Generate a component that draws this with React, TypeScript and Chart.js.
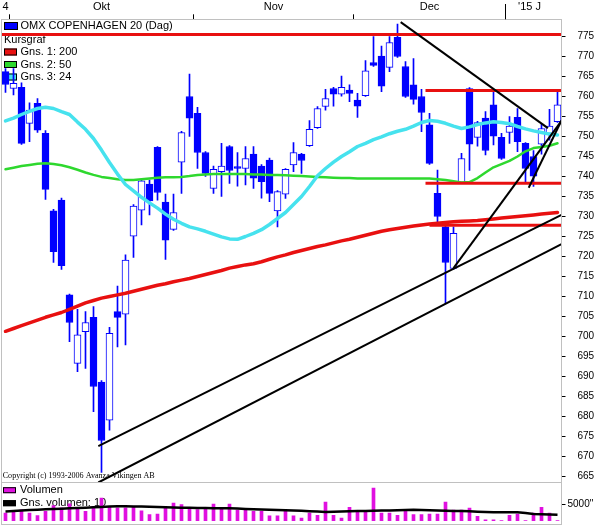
import React, { useEffect, useRef } from 'react';
import { Chart, registerables } from 'chart.js';

Chart.register(...registerables);

// ---------- data ----------
const OPEN = [766.2, 762, 762.3, 753.3, 758.3, 750.8, 731.4, 734.1, 710.4, 693.3, 701.2, 704.8, 688.6, 679.1, 706.2, 705.6, 725.1, 731.6, 738.1, 747.3, 733.6, 726.8, 743.6, 760, 755.8, 746, 737, 741.2, 747.5, 742.5, 742, 745.6, 742.6, 744.1, 731.4, 735.6, 742.9, 745.6, 747.7, 752.2, 757.5, 762, 760.6, 761.6, 759.1, 760.2, 768.5, 770.1, 767.3, 774.8, 767.5, 762.9, 760, 752.9, 735.8, 727.4, 717, 738.5, 762, 749.8, 754.6, 757.9, 749.8, 751, 754.8, 748.3, 745, 748.1, 750.8, 753.7];
const HIGH = [767, 767, 763.4, 758.4, 759.5, 751.5, 731.8, 734.6, 710.6, 706.8, 706.2, 707.5, 689, 702.3, 712.6, 720.4, 733, 739.2, 739.1, 747.5, 735.6, 735.6, 751.3, 765.6, 757.3, 746.2, 742.6, 748.3, 747.7, 746, 747.5, 747.5, 743, 744.6, 736.5, 742, 748.5, 745.8, 754, 757.5, 761.8, 762.3, 765.1, 762.9, 760.8, 769, 775, 772.6, 775, 778.1, 768.7, 769.5, 761.8, 755.8, 741.6, 727.8, 727.4, 745.8, 762.2, 753.8, 756.2, 761.6, 750.8, 755, 757, 748.5, 746.5, 753.1, 756.8, 761.5];
const LOW = [761, 760.4, 748, 748.7, 751, 734.3, 718.5, 716.8, 698.7, 691.2, 692, 681.2, 666, 676.6, 697.4, 697.9, 719.8, 727.9, 730.4, 734.1, 719.3, 726.5, 735.8, 750, 742, 740, 735.8, 735, 738.3, 737.6, 737.9, 737, 734.6, 733.7, 727.4, 734.5, 741.2, 740.8, 747.5, 752, 756.6, 757.6, 760.1, 758.7, 754.8, 760, 767.5, 761.2, 766.2, 769.8, 759.8, 758.1, 751.2, 743, 728.5, 708.3, 716.8, 738.2, 741.5, 747.6, 745.4, 747.9, 744.3, 748.3, 746.2, 738.7, 737.5, 745.6, 749.1, 753.5];
const CLOSE = [763, 763.3, 748.3, 756.6, 751.6, 736.8, 721.2, 717.7, 703.5, 700.4, 703.5, 687.5, 674, 700.8, 704.8, 719.1, 732.6, 738.9, 733.9, 736, 724.1, 731, 751, 754.6, 746, 740.8, 741.8, 742.6, 741.5, 742, 744.5, 739.6, 738.7, 735.8, 736.2, 741.8, 746, 744, 751.8, 757, 759.5, 760.6, 762.3, 760.8, 757.6, 766.4, 767.8, 762.6, 773.5, 770, 760, 759.3, 756, 743.3, 730, 718.5, 725.8, 744.5, 748.1, 753.5, 746.5, 750.1, 744.5, 752.6, 748.7, 742, 740.1, 752, 752.6, 757.9];

const MA200 = [701.3, 702.0, 702.7, 703.4, 704.1, 704.8, 705.4, 706.0, 706.8, 707.6, 708.4, 709.0, 709.6, 710.0, 710.4, 710.8, 711.3, 711.8, 712.3, 712.8, 713.2, 713.7, 714.1, 714.5, 715.0, 715.5, 716.0, 716.5, 717.1, 717.5, 717.9, 718.2, 718.7, 719.3, 719.9, 720.4, 721.0, 721.5, 722.0, 722.5, 722.9, 723.4, 723.9, 724.3, 724.8, 725.3, 725.8, 726.3, 726.7, 727.0, 727.3, 727.6, 727.9, 728.1, 728.3, 728.5, 728.7, 728.8, 728.9, 729.0, 729.2, 729.4, 729.6, 729.8, 730.0, 730.2, 730.4, 730.6, 730.8, 731.0];
const MA50 = [741.8, 742.2, 742.6, 742.9, 743.2, 743.3, 743.1, 742.8, 742.3, 741.7, 741.0, 740.4, 739.9, 739.6, 739.3, 739.1, 739.1, 739.3, 739.5, 739.7, 739.8, 739.8, 739.9, 740.1, 740.4, 740.5, 740.6, 740.6, 740.6, 740.6, 740.6, 740.5, 740.5, 740.4, 740.4, 740.3, 740.2, 740.1, 740.0, 739.9, 739.8, 739.7, 739.6, 739.6, 739.5, 739.5, 739.5, 739.5, 739.5, 739.5, 739.5, 739.5, 739.5, 739.5, 739.3, 739.1, 738.8, 738.5, 738.6, 739.6, 741.0, 742.3, 743.1, 743.9, 745.0, 746.3, 747.1, 747.4, 747.7, 748.3];
const MA24 = [753.9, 754.6, 755.5, 756.3, 757.0, 757.3, 757.0, 756.2, 755.5, 753.6, 751.8, 749.5, 746.6, 743.5, 740.6, 738.0, 736.4, 734.8, 733.4, 732.1, 730.6, 729.3, 728.3, 727.4, 726.9, 726.3, 725.6, 724.9, 724.4, 724.3, 725.0, 725.8, 726.7, 728.0, 729.5, 731.0, 733.0, 735.0, 737.5, 740.2, 742.0, 743.6, 745.0, 746.2, 747.5, 748.3, 749.2, 749.9, 750.7, 751.3, 751.8, 752.6, 753.5, 754.0, 753.8, 753.3, 752.6, 752.0, 752.4, 753.0, 753.4, 753.7, 753.5, 753.2, 752.5, 751.9, 751.4, 751.0, 750.6, 750.4];

const VOLUME = [2400, 3100, 3400, 2400, 1600, 2900, 4700, 4000, 5300, 4000, 2900, 4500, 7100, 4300, 4000, 4000, 4300, 3100, 1900, 2100, 4200, 5500, 5000, 3750, 3440, 3750, 5200, 3960, 5200, 3330, 3330, 2900, 2900, 1560, 1560, 3125, 1560, 830, 2400, 1670, 5830, 1670, 830, 4170, 2710, 2710, 10200, 2400, 2400, 1670, 2920, 1875, 1875, 2080, 2080, 5830, 3330, 3330, 3960, 1350, 310, 310, 0, 1670, 2080, 0, 2400, 4170, 2400, 0];
const VOLUME_AVG = [2900, 3050, 3200, 3340, 3450, 3550, 3650, 3760, 3870, 3970, 4070, 4180, 4280, 4400, 4500, 4480, 4460, 4440, 4360, 4280, 4190, 4130, 4080, 4020, 3970, 3950, 3920, 3900, 3875, 3780, 3690, 3600, 3500, 3430, 3360, 3290, 3220, 3090, 2970, 2840, 2720, 2790, 2870, 2940, 3000, 3050, 3110, 3160, 3220, 3280, 3340, 3400, 3330, 3260, 3190, 3125, 3060, 3000, 2940, 2830, 2730, 2625, 2625, 2625, 2625, 2400, 2090, 2030, 1950, 1875];

const PRICE_TICKS = [665, 670, 675, 680, 685, 690, 695, 700, 705, 710, 715, 720, 725, 730, 735, 740, 745, 750, 755, 760, 765, 770, 775];
const VOLUME_TICKS = [5000];
const MONTH_BOUNDARIES = [0.5, 23.5, 43.5, 62.5];
const YEAR_BOUNDARY = 62.5;
const MONTH_LABEL_POS = [0, 12, 33.5, 53, 65.5];
const MONTH_LABELS = ['4', 'Okt', 'Nov', 'Dec', "'15 J"];

// support / resistance lines (index range, price)
const H_FROM = [-0.5, 52.5, 52.5, 53];
const H_TO = [69.5, 69.5, 69.5, 69.5];
const H_VALUE = [775.5, 761.5, 738.3, 727.8];

// trend lines (index, price) -> (index, price)
const TL_X1 = [49.4, 11.6, 11.6, 56, 65.4];
const TL_Y1 = [778.6, 672.6, 663.5, 717.1, 737.2];
const TL_X2 = [67.8, 69.5, 69.5, 69.5, 69.5];
const TL_Y2 = [752.1, 730.4, 723.1, 753.9, 754.0];

const LEGEND_TITLE = 'OMX COPENHAGEN 20 (Dag)';
const LEGEND_SUB = 'Kursgraf';
const LEGEND_MA = ['Gns. 1: 200', 'Gns. 2: 50', 'Gns. 3: 24'];
const LEGEND_VOL = ['Volumen', 'Gns. volumen: 10'];
const COPYRIGHT = 'Copyright (c) 1993-2006 Avanza Vikingen AB';

// ---------- styles ----------
const FONT = '"Liberation Sans", Arial, sans-serif';
const BLUE = '#0000ff';
const RED = '#e81010';
const GREEN = '#2ed82e';
const CYAN = '#46e2ee';
const MAGENTA = '#e010e0';
const FRAME = '#c0c0c0';

const idx = OPEN.map((_, i) => i);

const overlayPlugin = {
  id: 'overlayText',
  beforeDatasetsDraw(chart: any) {
    const { ctx, chartArea } = chart;
    const yv = chart.scales.yv;
    const L = chartArea.left;
    const T = chartArea.top;
    ctx.save();
    const box = (x: number, y: number, w: number, h: number, color: string) => {
      ctx.fillStyle = color;
      ctx.fillRect(x, y, w, h);
      ctx.strokeStyle = '#000';
      ctx.lineWidth = 1;
      ctx.strokeRect(x + 0.5, y + 0.5, w - 1, h - 1);
    };
    ctx.font = `11px ${FONT}`;
    ctx.textBaseline = 'middle';
    ctx.textAlign = 'left';
    box(L + 2.5, T + 2.7, 14, 8, BLUE);
    ctx.fillStyle = '#000';
    ctx.fillText(LEGEND_TITLE, L + 19, T + 6.7);
    ctx.fillText(LEGEND_SUB, L + 2.5, T + 20.2);
    const cols = [RED, GREEN, CYAN];
    LEGEND_MA.forEach((t, k) => {
      const cy = T + 32.7 + k * 12.5;
      box(L + 2.5, cy - 3.5, 13, 7, cols[k]);
      ctx.fillStyle = '#000';
      ctx.fillText(t, L + 19, cy);
    });
    // volume legend
    const vT = yv.top;
    box(L + 1.5, vT + 4.5, 13, 6, MAGENTA);
    ctx.fillStyle = '#000';
    ctx.fillText(LEGEND_VOL[0], L + 18.5, vT + 7.5);
    box(L + 1.5, vT + 17.5, 13, 6, '#000');
    ctx.fillStyle = '#000';
    ctx.fillText(LEGEND_VOL[1], L + 18.5, vT + 20.5);
    // copyright
    const y = chart.scales.y;
    ctx.font = `8.1px "Liberation Serif", "Times New Roman", serif`;
    ctx.textBaseline = 'alphabetic';
    ctx.fillText(COPYRIGHT, L + 1.2, y.bottom - 5);
    ctx.restore();
  },
  afterDatasetsDraw(chart: any) {
    const { ctx, chartArea } = chart;
    ctx.save();
    ctx.strokeStyle = FRAME;
    ctx.lineWidth = 1;
    const Lx = Math.floor(chartArea.left) + 0.5;
    const Rx = Math.floor(chartArea.right) + 0.5;
    ['y', 'yv'].forEach((id) => {
      const s = chart.scales[id];
      const t = Math.floor(s.top) + 0.5;
      const b = Math.floor(s.bottom) + 0.5;
      ctx.strokeRect(Lx, t, Rx - Lx, b - t);
    });
    // long year tick
    const xs = chart.scales.x;
    const px = Math.floor(xs.getPixelForValue(YEAR_BOUNDARY)) + 0.5;
    ctx.strokeStyle = '#000';
    ctx.beginPath();
    ctx.moveTo(px, 4);
    ctx.lineTo(px, chartArea.top);
    ctx.stroke();
    ctx.restore();
  },
};

export default function App() {
  const ref = useRef<HTMLCanvasElement | null>(null);

  useEffect(() => {
    if (!ref.current) return;
    const up = idx.map((i) => CLOSE[i] >= OPEN[i]);
    const lineDs = (data: number[], color: string, width: number, order: number) => ({
      type: 'line',
      data: idx.map((i) => ({ x: i, y: data[i] })),
      borderColor: color,
      borderWidth: width,
      pointRadius: 0,
      tension: 0,
      borderJoinStyle: 'round',
      borderCapStyle: 'round',
      xAxisID: 'x',
      yAxisID: 'y',
      order,
    });
    const datasets: any[] = [
      {
        type: 'bar',
        data: idx.map((i) => ({ x: i, y: [LOW[i], HIGH[i]] })),
        backgroundColor: BLUE,
        barThickness: 1,
        grouped: false,
        borderWidth: 0,
        xAxisID: 'x',
        yAxisID: 'y',
        order: 20,
      },
      {
        type: 'bar',
        data: idx.map((i) => ({ x: i, y: [OPEN[i], CLOSE[i]] })),
        backgroundColor: idx.map((i) => (up[i] ? '#ffffff' : BLUE)),
        borderColor: BLUE,
        borderWidth: 1,
        borderSkipped: false,
        barThickness: 7,
        grouped: false,
        xAxisID: 'x',
        yAxisID: 'y',
        order: 19,
      },
      lineDs(MA200, RED, 3.5, 10),
      lineDs(MA50, GREEN, 2.5, 9),
      lineDs(MA24, CYAN, 3.5, 8),
      ...H_VALUE.map((v, k) => ({
        type: 'line',
        data: [
          { x: H_FROM[k], y: v },
          { x: H_TO[k], y: v },
        ],
        borderColor: RED,
        borderWidth: 3,
        pointRadius: 0,
        xAxisID: 'x',
        yAxisID: 'y',
        order: 5,
      })),
      ...TL_X1.map((x1, k) => ({
        type: 'line',
        data: [
          { x: x1, y: TL_Y1[k] },
          { x: TL_X2[k], y: TL_Y2[k] },
        ],
        borderColor: '#000',
        borderWidth: 2,
        pointRadius: 0,
        xAxisID: 'x',
        yAxisID: 'y',
        order: 2,
      })),
      {
        type: 'bar',
        data: idx.map((i) => ({ x: i, y: VOLUME[i] })),
        backgroundColor: MAGENTA,
        barThickness: 3,
        grouped: false,
        borderWidth: 0,
        xAxisID: 'x',
        yAxisID: 'yv',
        order: 4,
      },
      {
        type: 'line',
        data: idx.map((i) => ({ x: i, y: VOLUME_AVG[i] })),
        borderColor: '#000',
        borderWidth: 2.5,
        pointRadius: 0,
        xAxisID: 'x',
        yAxisID: 'yv',
        order: 3,
      },
    ];

    const noPad = (s: any) => {
      s.width = 35.5;
      s.paddingTop = 0;
      s.paddingBottom = 0;
    };

    const chart = new Chart(ref.current, {
      type: 'bar',
      data: { datasets },
      plugins: [overlayPlugin],
      options: {
        animation: false,
        responsive: false,
        devicePixelRatio: 1,
        layout: { padding: { left: 1.5, right: 0, top: 0, bottom: 1.3 } },
        plugins: { legend: { display: false }, tooltip: { enabled: false } },
        scales: {
          x: {
            type: 'linear',
            position: 'top',
            offset: false,
            min: -0.5,
            max: 69.5,
            afterBuildTicks: (s: any) => {
              const vals = [...MONTH_BOUNDARIES, ...MONTH_LABEL_POS].sort((a, b) => a - b);
              s.ticks = vals.map((v) => ({ value: v }));
            },
            afterFit: (s: any) => {
              s.height = 19.3;
              s.paddingLeft = 0;
              s.paddingRight = 0;
            },
            ticks: {
              autoSkip: false,
              maxRotation: 0,
              padding: 1,
              color: '#000',
              font: { family: FONT, size: 11 },
              callback: (v: any) => {
                const k = MONTH_LABEL_POS.indexOf(Number(v));
                return k >= 0 ? MONTH_LABELS[k] : '';
              },
            },
            grid: {
              drawOnChartArea: false,
              drawTicks: true,
              offset: false,
              tickLength: 5,
              tickColor: (c: any) =>
                c.tick && MONTH_BOUNDARIES.includes(c.tick.value) ? '#000' : 'rgba(0,0,0,0)',
            },
            border: { display: false },
          },
          y: {
            type: 'linear',
            position: 'right',
            stack: 'panels',
            stackWeight: 463.4,
            min: 663.45,
            max: 779.3,
            afterBuildTicks: (s: any) => {
              s.ticks = PRICE_TICKS.map((v) => ({ value: v }));
            },
            afterFit: noPad,
            ticks: {
              autoSkip: false,
              padding: 12,
              color: '#000',
              font: { family: FONT, size: 10 },
              callback: (v: any) => String(v),
            },
            grid: { drawOnChartArea: false, tickLength: 4, tickColor: '#000' },
            border: { display: false },
          },
          yv: {
            type: 'linear',
            position: 'right',
            stack: 'panels',
            stackWeight: 42,
            min: -1250,
            max: 11875,
            afterBuildTicks: (s: any) => {
              s.ticks = VOLUME_TICKS.map((v) => ({ value: v }));
            },
            afterFit: noPad,
            ticks: {
              autoSkip: false,
              padding: 2,
              color: '#000',
              font: { family: FONT, size: 10 },
              callback: (v: any) => `${v}"`,
            },
            grid: { drawOnChartArea: false, tickLength: 4, tickColor: '#000' },
            border: { display: false },
          },
        },
      } as any,
    } as any);
    return () => chart.destroy();
  }, []);

  return (
    <div style={{ position: 'absolute', left: 0, top: 0, width: 597, height: 526, background: '#fff' }}>
      <canvas ref={ref} width={597} height={526} style={{ display: 'block' }} />
    </div>
  );
}
